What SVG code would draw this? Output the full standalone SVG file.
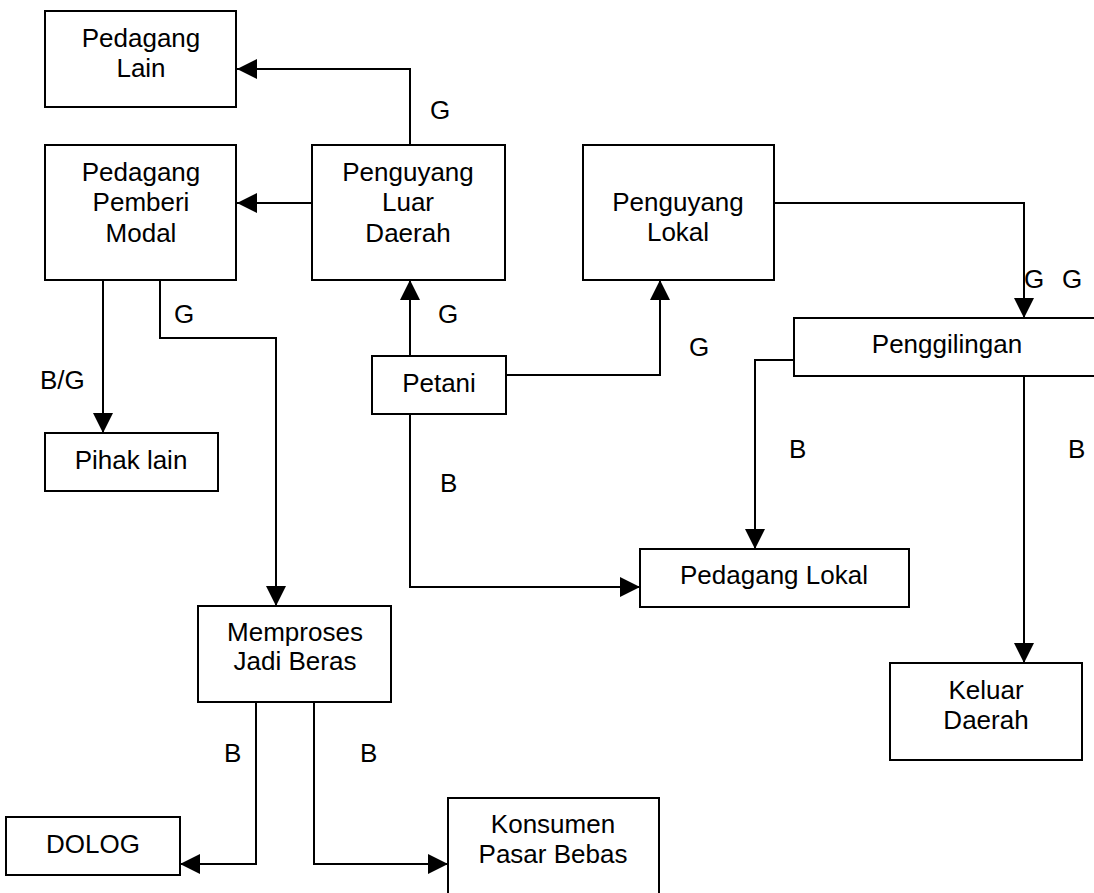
<svg xmlns="http://www.w3.org/2000/svg" width="1094" height="893" viewBox="0 0 1094 893">
<defs>
<marker id="ah" markerUnits="userSpaceOnUse" markerWidth="20" markerHeight="20" refX="20" refY="10" orient="auto">
<path d="M0,0 L20,10 L0,20 z" fill="#000"/>
</marker>
<style>
.box{fill:#fff;stroke:#000;stroke-width:2}
.c{fill:none;stroke:#000;stroke-width:2;marker-end:url(#ah)}
text{font-family:"Liberation Sans",Arial,sans-serif;font-size:26px;fill:#000}
.m{text-anchor:middle}
</style>
</defs>
<rect width="1094" height="893" fill="#fff"/>
<g id="connectors">
<path class="c" d="M410,145 V69 H237"/>
<path class="c" d="M312,203 H237"/>
<path class="c" d="M103,280 V433"/>
<path class="c" d="M160,280 V338 H276 V606"/>
<path class="c" d="M410,356 V280"/>
<path class="c" d="M506,375 H660 V280"/>
<path class="c" d="M774,203 H1024 V318"/>
<path class="c" d="M794,360 H755 V549"/>
<path class="c" d="M1024,376 V663"/>
<path class="c" d="M410,414 V587 H640"/>
<path class="c" d="M256,702 V864 H180"/>
<path class="c" d="M314,702 V864 H448"/>
</g>
<g id="labels">
<text x="430" y="119">G</text>
<text x="174" y="323">G</text>
<text x="40" y="389">B/G</text>
<text x="438" y="323">G</text>
<text x="689" y="356">G</text>
<text x="1024" y="288">G</text>
<text x="1062" y="288">G</text>
<text x="789" y="458">B</text>
<text x="1068" y="458">B</text>
<text x="440" y="492">B</text>
<text x="224" y="762">B</text>
<text x="360" y="762">B</text>
</g>
<g id="pedagang-lain"><rect class="box" x="45" y="11" width="191" height="96"/><text class="m" x="141" y="47">Pedagang</text><text class="m" x="141" y="77">Lain</text></g>
<g id="pedagang-pemberi-modal"><rect class="box" x="45" y="145" width="191" height="135"/><text class="m" x="141" y="181">Pedagang</text><text class="m" x="141" y="211">Pemberi</text><text class="m" x="141" y="242">Modal</text></g>
<g id="penguyang-luar-daerah"><rect class="box" x="312" y="145" width="193" height="135"/><text class="m" x="408" y="181">Penguyang</text><text class="m" x="408" y="211">Luar</text><text class="m" x="408" y="242">Daerah</text></g>
<g id="penguyang-lokal"><rect class="box" x="583" y="145" width="191" height="135"/><text class="m" x="678" y="211">Penguyang</text><text class="m" x="678" y="241">Lokal</text></g>
<g id="penggilingan"><rect class="box" x="794" y="318" width="310" height="58"/><text class="m" x="947" y="353">Penggilingan</text></g>
<g id="petani"><rect class="box" x="372" y="356" width="134" height="58"/><text class="m" x="439" y="392">Petani</text></g>
<g id="pihak-lain"><rect class="box" x="45" y="433" width="173" height="58"/><text class="m" x="131" y="469">Pihak lain</text></g>
<g id="pedagang-lokal"><rect class="box" x="640" y="549" width="269" height="58"/><text class="m" x="774" y="584">Pedagang Lokal</text></g>
<g id="memproses"><rect class="box" x="198" y="606" width="193" height="96"/><text class="m" x="295" y="641">Memproses</text><text class="m" x="295" y="670">Jadi Beras</text></g>
<g id="keluar-daerah"><rect class="box" x="890" y="663" width="192" height="97"/><text class="m" x="986" y="699">Keluar</text><text class="m" x="986" y="729">Daerah</text></g>
<g id="dolog"><rect class="box" x="6" y="817" width="174" height="58"/><text class="m" x="93" y="853">DOLOG</text></g>
<g id="konsumen"><rect class="box" x="448" y="798" width="211" height="110"/><text class="m" x="553" y="833">Konsumen</text><text class="m" x="553" y="863">Pasar Bebas</text></g>
</svg>
